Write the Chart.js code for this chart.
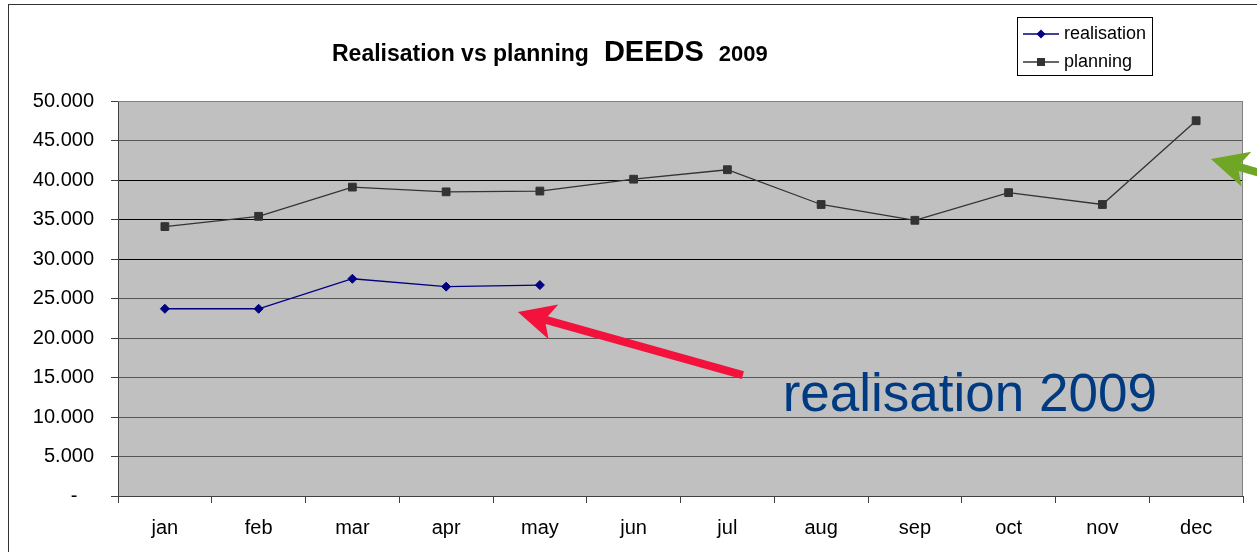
<!DOCTYPE html>
<html>
<head>
<meta charset="utf-8">
<script src="https://cdn.jsdelivr.net/npm/chart.js@4.4.1/dist/chart.umd.min.js"></script>
<style>
  body { margin: 0; background: #fff; }
  canvas { display: block; }
</style>
</head>
<body>
<canvas id="graph" width="1257" height="552"></canvas>
<script>
const months = ['jan', 'feb', 'mar', 'apr', 'may', 'jun', 'jul', 'aug', 'sep', 'oct', 'nov', 'dec'];
const realisation = [23700, 23700, 27500, 26500, 26700];
const planning = [34100, 35400, 39100, 38500, 38600, 40100, 41300, 36900, 34900, 38400, 36900, 47500];

// annotations, placed in data space (category index, value)
const redArrow = {tail: [6.165, 15300], tip: [3.765, 23300]};
const greenArrow = {tail: [12.22, 39100], tip: [11.157, 42650]};
const note = {text: 'realisation 2009', at: [6.59, 10800]};

const FONT = '"Liberation Sans", Arial, sans-serif';

function drawArrow(ctx, x1, y1, x2, y2, color) {
    const ang = Math.atan2(y2 - y1, x2 - x1);
    const len = Math.hypot(x2 - x1, y2 - y1);
    const L = 37, W = 18, s = 4;
    ctx.save();
    ctx.translate(x2, y2);
    ctx.rotate(ang);
    ctx.fillStyle = color;
    ctx.beginPath();
    ctx.moveTo(0, 0);
    ctx.lineTo(-L, -W);
    ctx.lineTo(-L + 7, -s);
    ctx.lineTo(-len, -s);
    ctx.lineTo(-len, s);
    ctx.lineTo(-L + 7, s);
    ctx.lineTo(-L, W);
    ctx.closePath();
    ctx.fill();
    ctx.restore();
}

const decorations = {
    id: 'decorations',
    beforeDraw(chart) {
        const {ctx, chartArea: a} = chart;
        ctx.save();
        ctx.fillStyle = '#fff';
        ctx.fillRect(0, 0, chart.width, chart.height);
        ctx.strokeStyle = '#333';
        ctx.lineWidth = 1;
        ctx.strokeRect(8.5, 4.5, 1400, 700);
        ctx.fillStyle = '#c0c0c0';
        ctx.fillRect(a.left, a.top, a.right - a.left, a.bottom - a.top);
        ctx.restore();
    },
    afterDraw(chart) {
        const {ctx, chartArea: a} = chart;
        const xs = chart.scales.x, ys = chart.scales.y;
        const px = p => [xs.getPixelForValue(p[0]), ys.getPixelForValue(p[1])];

        ctx.save();
        // plot frame top / right
        ctx.strokeStyle = '#808080';
        ctx.lineWidth = 1;
        ctx.beginPath();
        ctx.moveTo(a.left, a.top + 0.5);
        ctx.lineTo(a.right - 0.5, a.top + 0.5);
        ctx.lineTo(a.right - 0.5, a.bottom);
        ctx.stroke();

        // arrows
        let t = px(redArrow.tail), h = px(redArrow.tip);
        drawArrow(ctx, t[0], t[1], h[0], h[1], '#f2123b');
        t = px(greenArrow.tail); h = px(greenArrow.tip);
        drawArrow(ctx, t[0], t[1], h[0], h[1], '#6fa625');

        // note
        const n = px(note.at);
        ctx.fillStyle = '#003a80';
        ctx.font = '53px ' + FONT;
        ctx.textAlign = 'left';
        ctx.textBaseline = 'alphabetic';
        ctx.fillText(note.text, n[0], n[1]);

        // title
        ctx.fillStyle = '#000';
        const parts = [['Realisation vs planning', 23], ['DEEDS', 29], ['2009', 22]];
        let x = 332;
        parts.forEach(function(p) {
            ctx.font = 'bold ' + p[1] + 'px ' + FONT;
            ctx.fillText(p[0], x, 61);
            x += ctx.measureText(p[0]).width + 15;
        });

        // legend
        ctx.fillStyle = '#fff';
        ctx.fillRect(1017, 17, 135, 58);
        ctx.strokeStyle = '#000';
        ctx.strokeRect(1017.5, 17.5, 135, 58);
        ctx.font = '18px ' + FONT;
        ctx.textBaseline = 'middle';
        chart.data.datasets.forEach(function(ds, i) {
            const y = 34 + i * 28;
            ctx.strokeStyle = ds.borderColor;
            ctx.lineWidth = 1.3;
            ctx.beginPath();
            ctx.moveTo(1023, y);
            ctx.lineTo(1059, y);
            ctx.stroke();
            ctx.fillStyle = ds.backgroundColor;
            ctx.beginPath();
            if (ds.pointStyle === 'rectRot') {
                ctx.moveTo(1041, y - 4.5);
                ctx.lineTo(1045.5, y);
                ctx.lineTo(1041, y + 4.5);
                ctx.lineTo(1036.5, y);
            } else {
                ctx.rect(1037, y - 4, 8, 8);
            }
            ctx.fill();
            ctx.fillStyle = '#000';
            ctx.fillText(ds.label, 1064, y);
        });
        ctx.restore();
    }
};

new Chart(document.querySelector('#graph'), {
    type: 'line',
    data: {
        labels: months,
        datasets: [{
            label: 'realisation',
            data: realisation,
            borderColor: '#000080',
            backgroundColor: '#000080',
            borderWidth: 1.3,
            pointStyle: 'rectRot',
            pointRadius: 4.5,
            pointBorderWidth: 1,
            tension: 0
        },
        {
            label: 'planning',
            data: planning,
            borderColor: '#333333',
            backgroundColor: '#333333',
            borderWidth: 1.3,
            pointStyle: 'rect',
            pointRadius: 5.5,
            pointBorderWidth: 1,
            tension: 0
        }]
    },
    options: {
        responsive: false,
        animation: false,
        layout: {
            padding: {top: 101, right: 14, left: 0, bottom: 0}
        },
        plugins: {
            legend: {display: false},
            title: {display: false},
            tooltip: {enabled: false}
        },
        scales: {
            x: {
                offset: true,
                grid: {
                    offset: true,
                    drawOnChartArea: false,
                    drawTicks: true,
                    tickLength: 7,
                    color: '#404040'
                },
                border: {color: '#404040', width: 1},
                ticks: {
                    color: '#000',
                    padding: 13,
                    font: {family: FONT, size: 20}
                },
                afterFit(scale) { scale.height = 56; }
            },
            y: {
                min: 0,
                max: 50000,
                grid: {
                    tickLength: 7,
                    tickColor: '#404040',
                    color(c) {
                        const v = c.tick ? c.tick.value : 0;
                        if (v === 50000) return '#808080';
                        if (v >= 30000 && v <= 40000) return '#000000';
                        return '#555555';
                    }
                },
                border: {color: '#404040', width: 1},
                ticks: {
                    stepSize: 5000,
                    color: '#000',
                    padding: 17,
                    font: {family: FONT, size: 20},
                    callback(v) {
                        return v === 0 ? '-   ' : (v / 1000).toFixed(3);
                    }
                },
                afterFit(scale) { scale.width = 118; }
            }
        }
    },
    plugins: [decorations]
});
</script>
</body>
</html>
